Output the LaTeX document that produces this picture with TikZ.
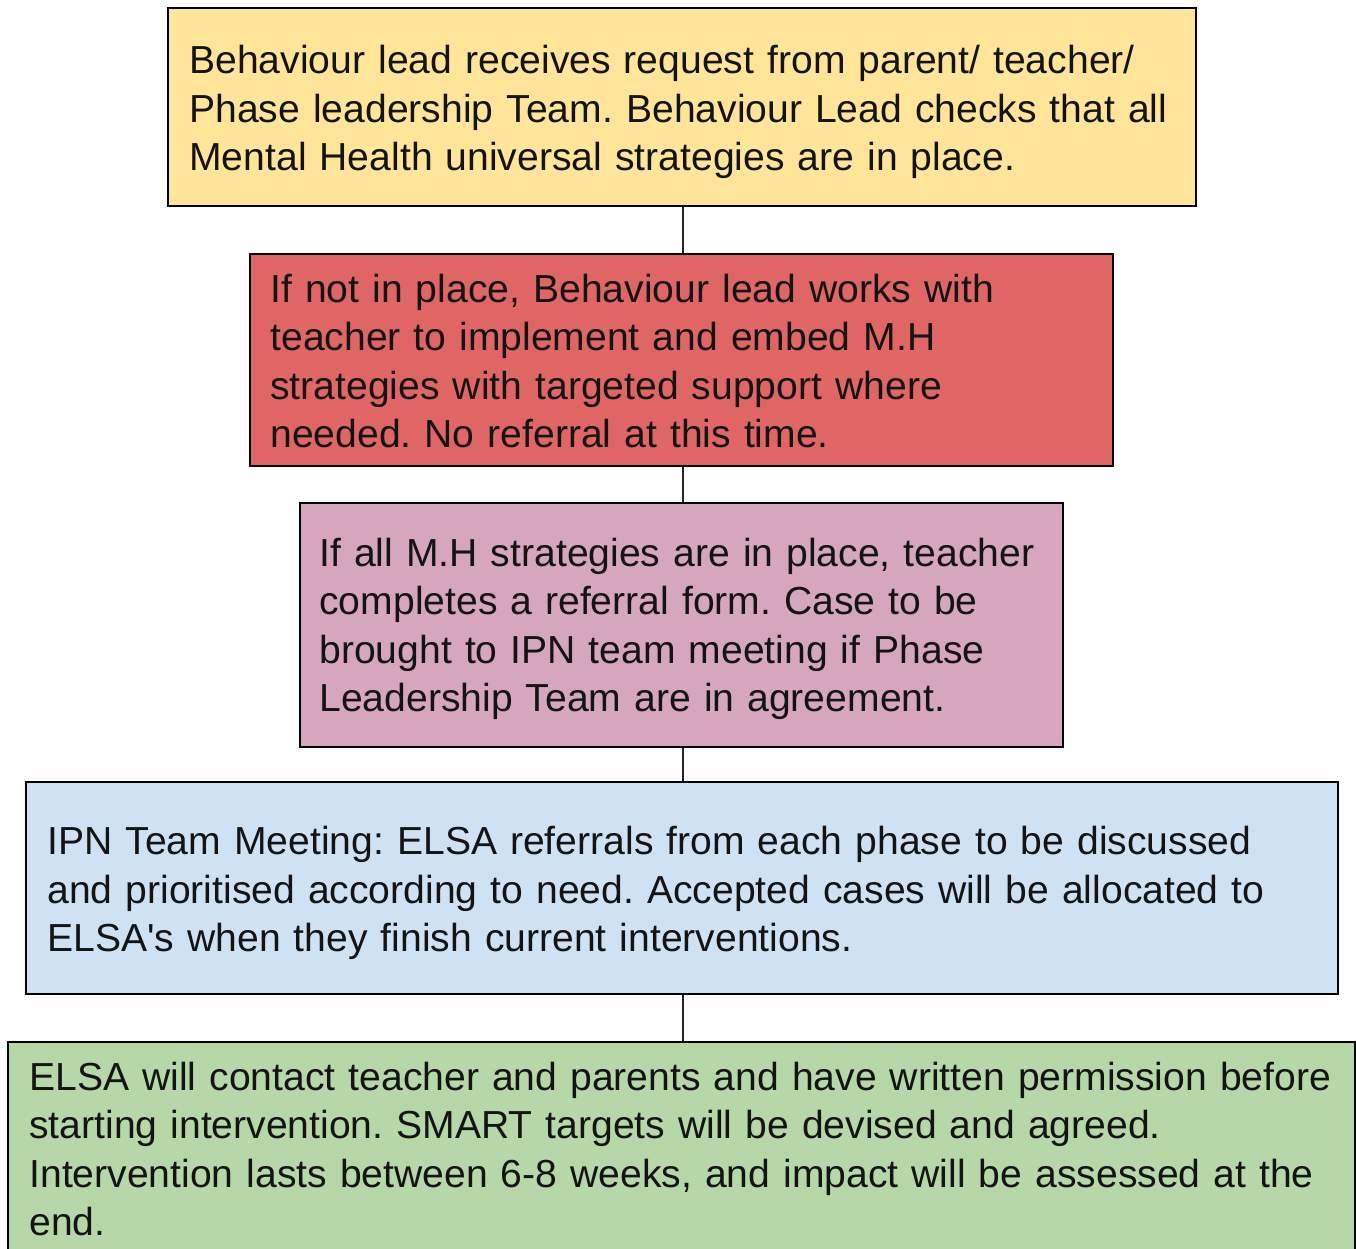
\documentclass[tikz,border=0pt]{standalone}
\usepackage{fontspec}
\setmainfont{Liberation Sans}
\hyphenpenalty=10000
\definecolor{cyel}{HTML}{FFE599}
\definecolor{cred}{HTML}{E06666}
\definecolor{cpink}{HTML}{D5A6BD}
\definecolor{cblue}{HTML}{CFE2F3}
\definecolor{cgreen}{HTML}{B6D7A8}
\tikzset{
  flowbox/.style={draw=black, line width=1.6pt, rectangle, inner sep=0pt},
  flowtext/.style={align=left, inner sep=0pt, anchor=west, text width=1500pt,
    font=\fontsize{39.1}{48.5}\selectfont\frenchspacing, text=black!92},
  link/.style={draw=black!85, line width=1.6pt}
}
\begin{document}
\begin{tikzpicture}[x=1pt,y=-1pt]
\useasboundingbox (0,0) rectangle (1356,1248);
\clip (0,0) rectangle (1356,1248);
\node[flowbox, fill=cyel, minimum width=1028pt, minimum height=198pt] (b1) at (682,107) {};
\node[flowtext, xshift=22pt, yshift=-5pt] (t1) at (b1.west)
 {Behaviour lead receives request from parent/ teacher/\\Phase leadership Team. Behaviour Lead checks that all\\Mental Health universal strategies are in place.};
\node[flowbox, fill=cred, minimum width=863pt, minimum height=212pt] (b2) at (681.5,360) {};
\node[flowtext, xshift=21pt, yshift=-1pt] (t2) at (b2.west)
 {If not in place, Behaviour lead works with\\teacher to implement and embed M.H\\strategies with targeted support where\\needed. No referral at this time.};
\node[flowbox, fill=cpink, minimum width=763pt, minimum height=244pt] (b3) at (681.5,625) {};
\node[flowtext, xshift=20pt, yshift=-4pt] (t3) at (b3.west)
 {If all M.H strategies are in place, teacher\\completes a referral form. Case to be\\brought to IPN team meeting if Phase\\Leadership Team are in agreement.};
\node[flowbox, fill=cblue, minimum width=1312pt, minimum height=212pt] (b4) at (682,888) {};
\node[flowtext, xshift=22pt, yshift=-5pt] (t4) at (b4.west)
 {IPN Team Meeting: ELSA referrals from each phase to be discussed\\and prioritised according to need. Accepted cases will be allocated to\\ELSA\textquotesingle s when they finish current interventions.};
\node[flowbox, fill=cgreen, minimum width=1347pt, minimum height=212pt] (b5) at (681.5,1148) {};
\node[flowtext, xshift=22pt, yshift=-1pt] (t5) at (b5.west)
 {ELSA will contact teacher and parents and have written permission before\\starting intervention. SMART targets will be devised and agreed.\\Intervention lasts between 6-8 weeks, and impact will be assessed at the\\end.};
\draw[link] (b1.south -| 683,0) -- (b2.north -| 683,0);
\draw[link] (b2.south -| 683,0) -- (b3.north -| 683,0);
\draw[link] (b3.south -| 683,0) -- (b4.north -| 683,0);
\draw[link] (b4.south -| 683,0) -- (b5.north -| 683,0);
\end{tikzpicture}
\end{document}
